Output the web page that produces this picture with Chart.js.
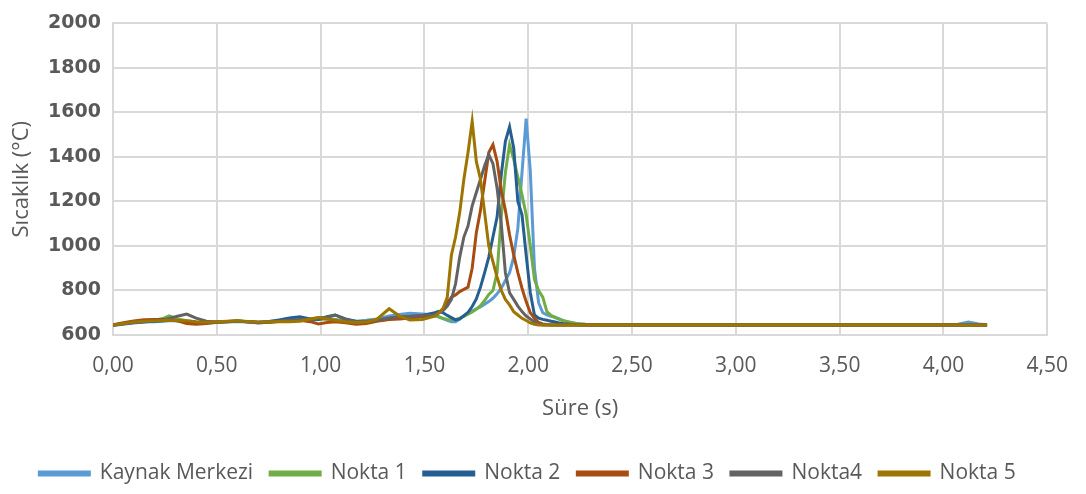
<!DOCTYPE html>
<html>
<head>
<meta charset="utf-8">
<script src="https://cdn.jsdelivr.net/npm/chart.js@4.4.1/dist/chart.umd.min.js"></script>
<style>
  html, body { margin: 0; padding: 0; background: #fff; }
</style>
</head>
<body>
<canvas id="tempChart" width="1086" height="494"></canvas>
<script>
// zaman (s) - ön ısınma, tepe bölgesi ve soğuma
const zaman = [
  0.00, 0.05, 0.10, 0.15, 0.20, 0.24, 0.27, 0.31, 0.355, 0.40, 0.45, 0.50, 0.55, 0.60, 0.65, 0.70,
  0.75, 0.80, 0.85, 0.90, 0.95, 0.99, 1.03, 1.07, 1.12, 1.17, 1.22, 1.27, 1.33, 1.38, 1.43, 1.49,
  1.55, 1.57, 1.59, 1.61, 1.63, 1.65, 1.67, 1.69, 1.71, 1.73, 1.75, 1.77, 1.79, 1.81, 1.83, 1.85,
  1.87, 1.89, 1.91, 1.93, 1.95, 1.97, 1.99, 2.01, 2.03, 2.05, 2.07, 2.09, 2.11, 2.13, 2.15, 2.17,
  2.19, 2.21, 2.23, 2.25, 2.27, 2.29,
  2.35, 2.50, 3.00, 3.50, 4.00, 4.07, 4.12, 4.17, 4.21
];

const kaynakMerkezi = [
  643, 648, 654, 658, 660, 662, 664, 664, 660, 656, 654, 656, 659, 661, 658, 654,
  657, 662, 667, 670, 668, 670, 674, 670, 664, 662, 666, 672, 685, 692, 698, 694,
  690, 682, 674, 666, 660, 660, 672, 688, 698, 708, 718, 726, 738, 750, 765, 785,
  810, 845, 880, 950, 1080, 1330, 1572, 1335, 900, 745, 700, 690, 684, 680, 672, 664,
  659, 655, 652, 650, 648, 646,
  645, 645, 645, 645, 645, 648, 658, 650, 646
];

const nokta1 = [
  645, 652, 658, 662, 666, 674, 686, 672, 664, 658, 656, 658, 661, 663, 660, 656,
  659, 663, 668, 671, 668, 670, 673, 668, 662, 660, 663, 668, 675, 678, 682, 684,
  686, 680, 674, 670, 668, 670, 676, 684, 694, 704, 716, 732, 755, 782, 800, 880,
  1130, 1330, 1455, 1390, 1310, 1230, 1140, 1000, 850, 800, 770, 705, 688, 678, 670, 664,
  660, 656, 652, 650, 648, 646,
  645, 645, 645, 645, 645, 645, 645, 645, 645
];

const nokta2 = [
  644, 651, 656, 659, 662, 664, 666, 664, 660, 656, 655, 658, 661, 663, 660, 657,
  661, 668, 676, 682, 672, 670, 682, 690, 672, 662, 660, 664, 672, 676, 682, 688,
  700, 706, 700, 688, 678, 668, 672, 686, 702, 728, 762, 815, 880, 950, 1040, 1130,
  1320, 1470, 1535, 1440, 1200, 1140, 960, 790, 690, 676, 670, 666, 662, 658, 654, 651,
  649, 647, 646, 645, 645, 645,
  645, 645, 645, 645, 645, 645, 645, 645, 645
];

const nokta3 = [
  646, 655, 663, 668, 670, 670, 668, 664, 652, 648, 652, 657, 660, 662, 660, 655,
  657, 661, 664, 666, 660, 650, 656, 660, 655, 648, 652, 662, 670, 672, 676, 682,
  690, 700, 715, 745, 770, 780, 795, 805, 815, 900, 1060, 1160, 1290, 1420, 1455, 1380,
  1250, 1160, 1050, 960, 880, 810, 750, 700, 675, 656, 650, 647, 645, 645, 645, 645,
  645, 645, 645, 645, 645, 645,
  645, 645, 645, 645, 645, 645, 645, 645, 645
];

const nokta4 = [
  645, 651, 656, 660, 664, 668, 674, 684, 694, 676, 662, 658, 660, 662, 660, 656,
  658, 662, 666, 670, 672, 676, 680, 690, 670, 660, 662, 666, 676, 682, 684, 688,
  690, 700, 710, 730, 760, 830, 950, 1040, 1090, 1180, 1240, 1300, 1360, 1410, 1370, 1260,
  1100, 880, 790, 760, 730, 705, 685, 672, 660, 650, 645, 645, 645, 645, 645, 645,
  645, 645, 645, 645, 645, 645,
  645, 645, 645, 645, 645, 645, 645, 645, 645
];

const nokta5 = [
  645, 652, 658, 662, 664, 665, 666, 665, 664, 660, 657, 659, 662, 664, 661, 658,
  660, 661, 660, 662, 672, 678, 672, 666, 660, 656, 658, 670, 718, 685, 667, 670,
  685, 700, 720, 770, 960, 1040, 1150, 1300, 1420, 1560, 1380, 1300, 1150, 1000, 930, 860,
  800, 760, 735, 705, 690, 675, 665, 655, 648, 645, 645, 645, 645, 645, 645, 645,
  645, 645, 645, 645, 645, 645,
  645, 645, 645, 645, 645, 645, 645, 645, 645
];

const seriAdlari = ['Kaynak Merkezi', 'Nokta 1', 'Nokta 2', 'Nokta 3', 'Nokta4', 'Nokta 5'];
const seriRenkleri = ['#5B9BD5', '#70AD47', '#255E91', '#A84C12', '#636363', '#9C7600'];
const seriDegerleri = [kaynakMerkezi, nokta1, nokta2, nokta3, nokta4, nokta5];

const yaziRengi = '#595959';
const izgaraRengi = '#D9D9D9';

const datasets = seriDegerleri.map((degerler, i) => ({
    label: seriAdlari[i],
    data: zaman.map((t, j) => ({ x: t, y: degerler[j] })),
    borderColor: seriRenkleri[i],
    backgroundColor: seriRenkleri[i],
    borderWidth: 3,
    pointRadius: 0,
    tension: 0,
    // Excel gibi son seri en üstte çizilsin
    order: seriDegerleri.length - i
}));

const ctx = document.getElementById('tempChart').getContext('2d');
const chart = new Chart(ctx, {
    type: 'line',
    data: { datasets: datasets },
    options: {
        responsive: false,
        animation: false,
        layout: { padding: { top: 17, right: 31, left: 0, bottom: 0 } },
        plugins: {
            legend: {
                position: 'bottom',
                labels: {
                    boxWidth: 50,
                    boxHeight: 3,
                    padding: 17,
                    color: yaziRengi,
                    font: { family: 'Open Sans', size: 21 },
                    // legend seri sırasıyla kalsın
                    sort: (a, b) => a.datasetIndex - b.datasetIndex
                }
            },
            tooltip: { enabled: false }
        },
        scales: {
            x: {
                type: 'linear',
                min: 0,
                max: 4.5,
                ticks: {
                    stepSize: 0.5,
                    color: yaziRengi,
                    padding: 18,
                    font: { family: 'Open Sans', size: 21 },
                    callback: v => v.toFixed(2).replace('.', ',')
                },
                grid: { color: izgaraRengi, lineWidth: 2, drawTicks: false },
                border: { color: izgaraRengi, width: 2 },
                title: {
                    display: true,
                    text: 'Süre (s)',
                    color: yaziRengi,
                    font: { family: 'Open Sans', size: 22 },
                    padding: { top: 0, bottom: 24 }
                },
                afterFit: s => { s.height = 494 - 335 - s.chart.legend.height; }
            },
            y: {
                min: 600,
                max: 2000,
                ticks: {
                    stepSize: 200,
                    color: yaziRengi,
                    padding: 12,
                    font: { family: 'DejaVu Sans', size: 19, weight: 'bold' },
                    callback: v => String(v)
                },
                grid: { color: izgaraRengi, lineWidth: 2, drawTicks: false },
                border: { color: izgaraRengi, width: 2 },
                title: {
                    display: true,
                    text: 'Sıcaklık (°C)',
                    color: yaziRengi,
                    font: { family: 'Open Sans', size: 22 },
                    padding: { top: 9, bottom: 0 }
                },
                afterFit: s => { s.width = 113; }
            }
        }
    }
});
</script>
</body>
</html>
